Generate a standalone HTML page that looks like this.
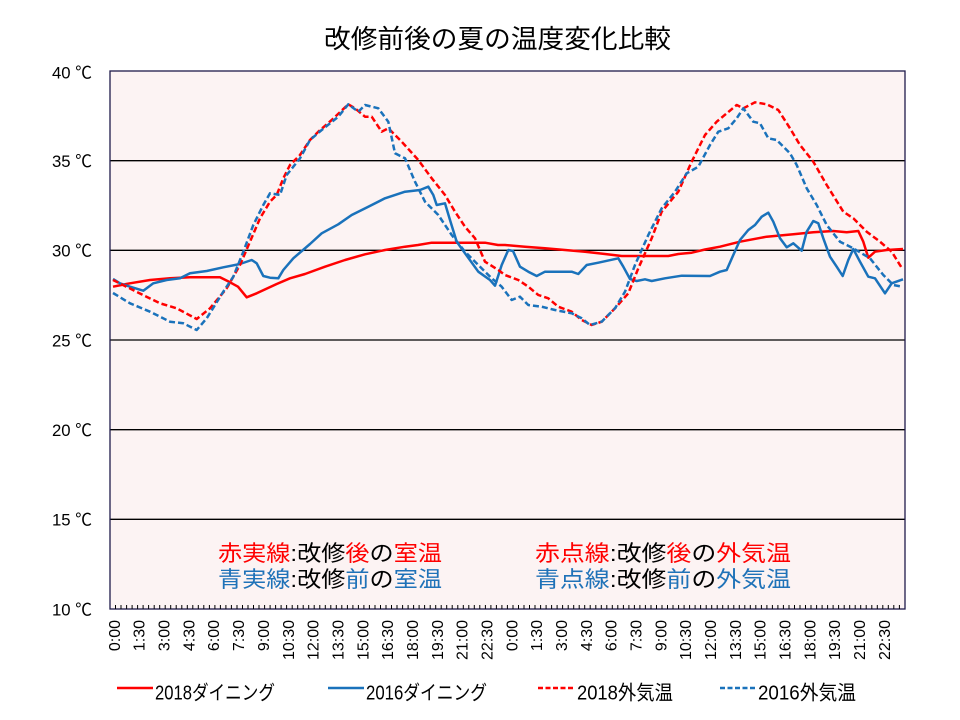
<!DOCTYPE html>
<html>
<head>
<meta charset="utf-8">
<style>
html,body{margin:0;padding:0;background:#fff;}
svg{display:block;}
text{font-family:"Liberation Sans","Noto Sans CJK JP",sans-serif;}
</style>
</head>
<body>
<svg width="960" height="720" viewBox="0 0 960 720" xmlns="http://www.w3.org/2000/svg">
<rect x="0" y="0" width="960" height="720" fill="#ffffff"/>
<!-- title -->
<text x="324" y="48" font-size="26" fill="#000" textLength="347" lengthAdjust="spacingAndGlyphs">改修前後の夏の温度変化比較</text>

<!-- plot area -->
<rect x="110" y="71" width="795" height="538" fill="#fcf3f3"/>
<g stroke="#000" stroke-width="1.3">
<line x1="110" y1="160.7" x2="905" y2="160.7"/>
<line x1="110" y1="250.3" x2="905" y2="250.3"/>
<line x1="110" y1="340" x2="905" y2="340"/>
<line x1="110" y1="429.7" x2="905" y2="429.7"/>
<line x1="110" y1="519.3" x2="905" y2="519.3"/>
</g>
<rect x="110" y="71" width="795" height="538" fill="none" stroke="#1f1a4a" stroke-width="1.3"/>

<!-- ticks -->
<path stroke="#000" stroke-width="1" fill="none" d="M115.5 609v-4M121 609v-4M126.6 609v-4M132.1 609v-4M137.6 609v-4M143.1 609v-4M148.6 609v-4M154.2 609v-4M159.7 609v-4M165.2 609v-4M170.7 609v-4M176.2 609v-4M181.8 609v-4M187.3 609v-4M192.8 609v-4M198.3 609v-4M203.8 609v-4M209.4 609v-4M214.9 609v-4M220.4 609v-4M225.9 609v-4M231.4 609v-4M237 609v-4M242.5 609v-4M248 609v-4M253.5 609v-4M259 609v-4M264.6 609v-4M270.1 609v-4M275.6 609v-4M281.1 609v-4M286.6 609v-4M292.2 609v-4M297.7 609v-4M303.2 609v-4M308.7 609v-4M314.2 609v-4M319.8 609v-4M325.3 609v-4M330.8 609v-4M336.3 609v-4M341.8 609v-4M347.4 609v-4M352.9 609v-4M358.4 609v-4M363.9 609v-4M369.4 609v-4M375 609v-4M380.5 609v-4M386 609v-4M391.5 609v-4M397 609v-4M402.6 609v-4M408.1 609v-4M413.6 609v-4M419.1 609v-4M424.6 609v-4M430.2 609v-4M435.7 609v-4M441.2 609v-4M446.7 609v-4M452.2 609v-4M457.8 609v-4M463.3 609v-4M468.8 609v-4M474.3 609v-4M479.8 609v-4M485.4 609v-4M490.9 609v-4M496.4 609v-4M501.9 609v-4M507.4 609v-4M513 609v-4M518.5 609v-4M524 609v-4M529.5 609v-4M535 609v-4M540.6 609v-4M546.1 609v-4M551.6 609v-4M557.1 609v-4M562.6 609v-4M568.2 609v-4M573.7 609v-4M579.2 609v-4M584.7 609v-4M590.2 609v-4M595.8 609v-4M601.3 609v-4M606.8 609v-4M612.3 609v-4M617.8 609v-4M623.4 609v-4M628.9 609v-4M634.4 609v-4M639.9 609v-4M645.4 609v-4M651 609v-4M656.5 609v-4M662 609v-4M667.5 609v-4M673 609v-4M678.6 609v-4M684.1 609v-4M689.6 609v-4M695.1 609v-4M700.6 609v-4M706.2 609v-4M711.7 609v-4M717.2 609v-4M722.7 609v-4M728.2 609v-4M733.8 609v-4M739.3 609v-4M744.8 609v-4M750.3 609v-4M755.8 609v-4M761.4 609v-4M766.9 609v-4M772.4 609v-4M777.9 609v-4M783.4 609v-4M789 609v-4M794.5 609v-4M800 609v-4M805.5 609v-4M811 609v-4M816.6 609v-4M822.1 609v-4M827.6 609v-4M833.1 609v-4M838.6 609v-4M844.2 609v-4M849.7 609v-4M855.2 609v-4M860.7 609v-4M866.2 609v-4M871.8 609v-4M877.3 609v-4M882.8 609v-4M888.3 609v-4M893.8 609v-4M899.4 609v-4"/>

<!-- y labels -->
<g font-size="17" fill="#000">
<text x="52" y="78.3" textLength="40" lengthAdjust="spacingAndGlyphs">40 ℃</text>
<text x="52" y="167" textLength="40" lengthAdjust="spacingAndGlyphs">35 ℃</text>
<text x="52" y="256.6" textLength="40" lengthAdjust="spacingAndGlyphs">30 ℃</text>
<text x="52" y="346.3" textLength="40" lengthAdjust="spacingAndGlyphs">25 ℃</text>
<text x="52" y="436" textLength="40" lengthAdjust="spacingAndGlyphs">20 ℃</text>
<text x="52" y="525.6" textLength="40" lengthAdjust="spacingAndGlyphs">15 ℃</text>
<text x="52" y="615.3" textLength="40" lengthAdjust="spacingAndGlyphs">10 ℃</text>
</g>

<!-- x labels -->
<g font-size="16" fill="#000" text-anchor="end">
<text transform="translate(119.9,620) rotate(-90)">0:00</text>
<text transform="translate(144.7,620) rotate(-90)">1:30</text>
<text transform="translate(169.6,620) rotate(-90)">3:00</text>
<text transform="translate(194.4,620) rotate(-90)">4:30</text>
<text transform="translate(219.2,620) rotate(-90)">6:00</text>
<text transform="translate(244.1,620) rotate(-90)">7:30</text>
<text transform="translate(268.9,620) rotate(-90)">9:00</text>
<text transform="translate(293.8,620) rotate(-90)">10:30</text>
<text transform="translate(318.6,620) rotate(-90)">12:00</text>
<text transform="translate(343.4,620) rotate(-90)">13:30</text>
<text transform="translate(368.3,620) rotate(-90)">15:00</text>
<text transform="translate(393.1,620) rotate(-90)">16:30</text>
<text transform="translate(418,620) rotate(-90)">18:00</text>
<text transform="translate(442.8,620) rotate(-90)">19:30</text>
<text transform="translate(467.6,620) rotate(-90)">21:00</text>
<text transform="translate(492.5,620) rotate(-90)">22:30</text>
<text transform="translate(517.3,620) rotate(-90)">0:00</text>
<text transform="translate(542.2,620) rotate(-90)">1:30</text>
<text transform="translate(567,620) rotate(-90)">3:00</text>
<text transform="translate(591.8,620) rotate(-90)">4:30</text>
<text transform="translate(616.7,620) rotate(-90)">6:00</text>
<text transform="translate(641.5,620) rotate(-90)">7:30</text>
<text transform="translate(666.4,620) rotate(-90)">9:00</text>
<text transform="translate(691.2,620) rotate(-90)">10:30</text>
<text transform="translate(716,620) rotate(-90)">12:00</text>
<text transform="translate(740.9,620) rotate(-90)">13:30</text>
<text transform="translate(765.7,620) rotate(-90)">15:00</text>
<text transform="translate(790.6,620) rotate(-90)">16:30</text>
<text transform="translate(815.4,620) rotate(-90)">18:00</text>
<text transform="translate(840.2,620) rotate(-90)">19:30</text>
<text transform="translate(865.1,620) rotate(-90)">21:00</text>
<text transform="translate(889.9,620) rotate(-90)">22:30</text>
</g>

<!-- series -->
<g fill="none" stroke-width="2.5" stroke-linejoin="round" stroke-linecap="butt">
<polyline stroke="#ff0000" points="113,286.7 130,283.3 150,280 170,278.3 190,277.3 220,277.3 230,282.3 238,286.7 246.7,297.3 256.7,293.3 276.7,284 290,278.3 305,274 325,266.7 345,260 365,254.3 385,250 405,246.7 418,245 431.7,242.7 485,242.7 498,245 505,245 525,246.7 545,248.3 565,250 585,251.7 605,254 621.7,256 668.3,256 678.3,254 691.7,252.7 705,249.5 720,246.7 740,241.7 766.7,236.7 793.3,234.3 813.3,232.3 833.3,231 846.7,232.3 858.3,231 863.3,241.7 868.3,257.7 875,251.7 886.7,250 903,249"/>
<polyline stroke="#1a72bb" points="113,279 120,283.3 130,286.7 143.3,290.7 153.3,283.3 166.7,280 180,278.3 190,273.3 206.7,271 223.3,267.3 240,264 251.7,260 256.7,263.3 263.3,276 270,277.7 278.3,278.3 283.3,270 293.3,258.3 310,244 321.7,233.3 338.3,224.3 351.7,215 368.3,206.7 385,198.3 405,191.7 420,190 428.3,186.7 433.3,195 436.7,205 445,203.3 450,220 456.7,241.7 465,253.3 478.3,271.7 490,280 495,285.7 501.7,265 508.3,250 513,251 520,266.7 528.3,271.7 536.7,276 545,271.7 571.7,271.7 578.3,274 586.7,265 598.3,262.7 618.3,258.3 623.3,266.7 630,279 636.7,281 645,279.3 651.7,281 665,278.3 681.7,275.7 710,276 720,271.7 726.7,270 733.3,255 740,240 748.3,230 755,225 761.7,216.7 768.3,212.7 773.3,221.7 780,238.3 786.7,247.3 793.3,243.3 801.7,250.7 806.7,231.7 813.3,221 818.3,223.3 823.3,238.3 830,256.7 836.7,266.7 842.7,276 848.3,260 853.3,249 860,261.7 868.3,276.7 875,278.3 885,293.3 891.7,283.3 903,279.3"/>
<polyline stroke="#ff0000" stroke-dasharray="6,3" points="113,280 143,295 160,303.3 176.7,308.3 196.7,319 210,308.3 226.7,288.3 240,265 250,241.7 260,218.3 270,201.7 276.7,195 283.3,178.3 290,165 300,155 310,140 318.3,131.7 331.7,120 348.3,104.3 355,108.3 365,116.7 371.7,116.7 381.7,131.7 388.3,128.3 401.7,141.7 418.3,160 431.7,178.3 445,195 455,211.7 465,226.7 475,238.3 485,261.7 498.3,270 505,275 518.3,280 528.3,286.7 538.3,295 548.3,298.3 558.3,306.7 571.7,311.7 581.7,320 591.7,325 601.7,321.7 615,308.3 628.3,293.3 638.3,268.3 651.7,238.3 661.7,211.7 678.3,191.7 691.7,161.7 700,145 705,135 716.7,121.7 736.7,105 743.3,108.3 755,102.3 766.7,104.3 778.3,110 790,128.3 800,145 813.3,161.7 826.7,185 843.3,211.7 853.3,218.3 866.7,231.7 880,241.7 891.7,251.7 902,268.3"/>
<polyline stroke="#1a72bb" stroke-dasharray="6,3" points="113,293 130,303.3 150,311.7 170,321.7 183.3,323.3 196.7,330 206.7,318.3 223.3,291.7 233.3,276.7 243.3,251.7 253.3,225 263.3,205 270,193.3 280,195 286.7,175 300,158.3 310,140 321.7,130 338.3,116.7 348.3,104.3 358.3,111.7 365,105 378.3,108.3 388.3,121.7 395,153.3 405,158.3 415,181.7 425,201.7 438.3,215 451.7,235 465,251.7 478.3,265 491.7,278.3 501.7,286.7 511.7,300 520,296.7 528.3,305 541.7,306.7 555,310 571.7,313.3 581.7,318.3 590,325 601.7,321.7 615,308.3 625,291.7 635,265 648.3,235 661.7,208.3 675,191.7 686.7,173.3 698.3,166.7 710,145 718.3,131.7 728.3,128.3 736.7,118.3 743.3,108.3 753.3,121.7 760,123.3 768.3,138.3 776.7,140 790,153.3 796.7,165 806.7,188.3 816.7,205 826.7,225 840,241.7 853.3,248.3 870,258.3 883.3,275 893.3,285 902,286.7"/>
</g>

<!-- in-chart annotation -->
<g font-size="22">
<text x="218" y="561" textLength="224" lengthAdjust="spacingAndGlyphs"><tspan fill="#ff0000">赤実線</tspan><tspan fill="#000">:改修</tspan><tspan fill="#ff0000">後</tspan><tspan fill="#000">の</tspan><tspan fill="#ff0000">室温</tspan></text>
<text x="218" y="587" textLength="224" lengthAdjust="spacingAndGlyphs"><tspan fill="#1f72b8">青実線</tspan><tspan fill="#000">:改修</tspan><tspan fill="#1f72b8">前</tspan><tspan fill="#000">の</tspan><tspan fill="#1f72b8">室温</tspan></text>
<text x="535" y="561" textLength="256" lengthAdjust="spacingAndGlyphs"><tspan fill="#ff0000">赤点線</tspan><tspan fill="#000">:改修</tspan><tspan fill="#ff0000">後</tspan><tspan fill="#000">の</tspan><tspan fill="#ff0000">外気温</tspan></text>
<text x="535" y="587" textLength="256" lengthAdjust="spacingAndGlyphs"><tspan fill="#1f72b8">青点線</tspan><tspan fill="#000">:改修</tspan><tspan fill="#1f72b8">前</tspan><tspan fill="#000">の</tspan><tspan fill="#1f72b8">外気温</tspan></text>
</g>

<!-- bottom legend -->
<g stroke-width="2.5">
<line x1="117" y1="688" x2="153" y2="688" stroke="#ff0000"/>
<line x1="328" y1="688" x2="364" y2="688" stroke="#1a72bb"/>
<line x1="538" y1="688" x2="575" y2="688" stroke="#ff0000" stroke-dasharray="5,2.5"/>
<line x1="720" y1="688" x2="757" y2="688" stroke="#1a72bb" stroke-dasharray="5,2.5"/>
</g>
<g font-size="20" fill="#000">
<text x="155" y="699.5" textLength="120" lengthAdjust="spacingAndGlyphs">2018ダイニング</text>
<text x="366" y="699.5" textLength="121" lengthAdjust="spacingAndGlyphs">2016ダイニング</text>
<text x="577" y="699.5" textLength="96" lengthAdjust="spacingAndGlyphs">2018外気温</text>
<text x="758" y="699.5" textLength="98" lengthAdjust="spacingAndGlyphs">2016外気温</text>
</g>
</svg>
</body>
</html>
